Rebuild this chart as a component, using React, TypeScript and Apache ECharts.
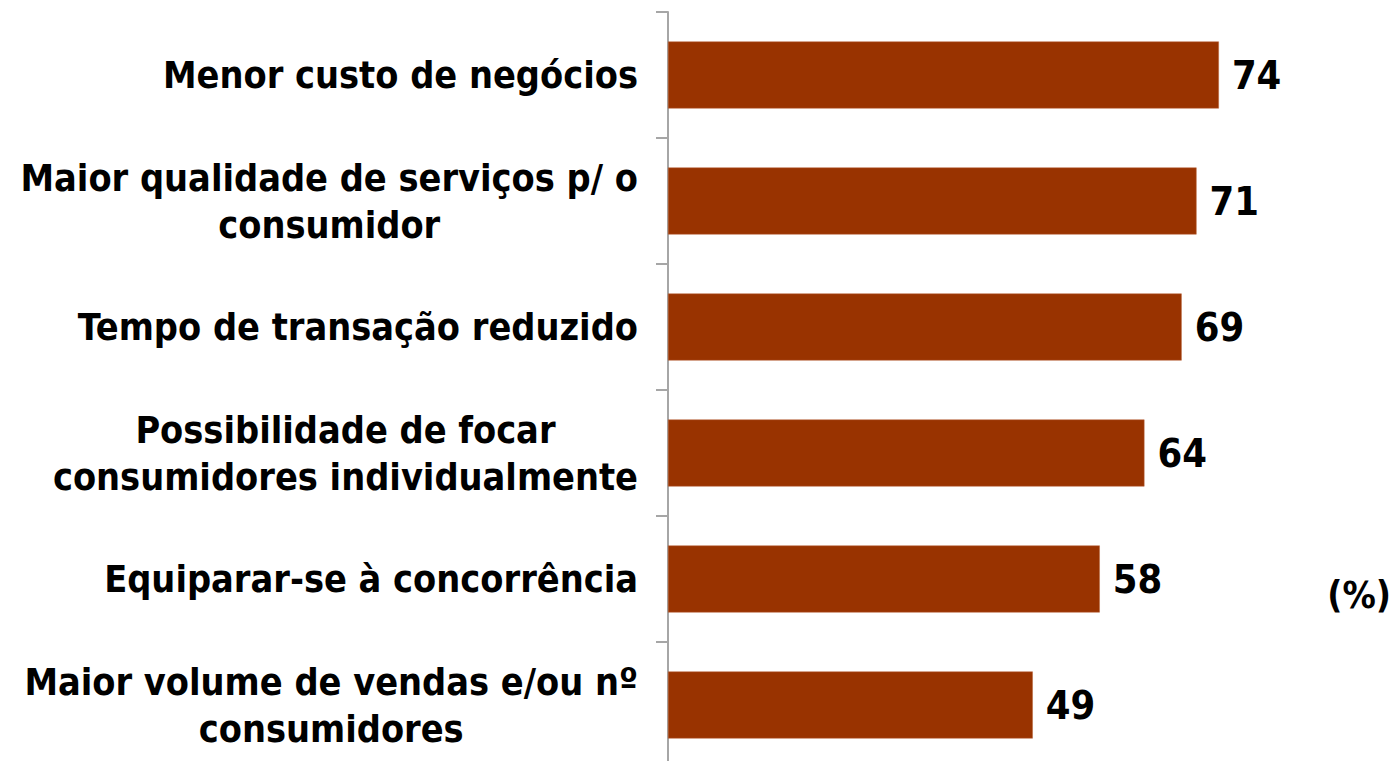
import React, { useEffect, useRef } from "react";
import * as echarts from "echarts";

const categories: string[] = [
  "Menor custo de negócios",
  "Maior qualidade de serviços p/ o\nconsumidor",
  "Tempo de transação reduzido",
  "Possibilidade de focar\nconsumidores individualmente",
  "Equiparar-se à concorrência",
  "Maior volume de vendas e/ou nº\nconsumidores",
];
const values: number[] = [74, 71, 69, 64, 58, 49];
const unitLabel = "(%)";

const FONT = "'DejaVu Sans Condensed', 'DejaVu Sans', sans-serif";

export default function App() {
  const ref = useRef<HTMLDivElement>(null);
  useEffect(() => {
    if (!ref.current) return;
    const chart = echarts.init(ref.current, undefined, { renderer: "svg" });
    chart.setOption({
      animation: false,
      backgroundColor: "#ffffff",
      grid: { left: 668, top: 12, width: 670, height: 756, containLabel: false },
      xAxis: {
        type: "value",
        min: 0,
        max: 90,
        show: false,
      },
      yAxis: {
        type: "category",
        inverse: true,
        data: categories,
        axisLine: { show: true, lineStyle: { color: "#a6a6a6", width: 2 } },
        axisTick: { show: true, length: 12, lineStyle: { color: "#a6a6a6", width: 2 } },
        axisLabel: {
          margin: 30,
          formatter: (v: string) =>
            v
              .split("\n")
              .map((l) => `{c|${l}}`)
              .join("\n"),
          rich: {
            c: {
              align: "center",
              fontFamily: FONT,
              fontWeight: "bold",
              fontSize: 37.5,
              lineHeight: 47,
              color: "#000000",
            },
          },
        },
        splitLine: { show: false },
      },
      series: [
        {
          type: "bar",
          data: values,
          barWidth: 67,
          itemStyle: { color: "#993300", borderColor: "#b9643a", borderWidth: 0.5 },
          label: {
            show: true,
            position: "right",
            distance: 13,
            fontFamily: FONT,
            fontWeight: "bold",
            fontSize: 39.5,
            color: "#000000",
          },
        },
      ],
      graphic: [
        {
          type: "text",
          right: 2,
          top: 577,
          style: {
            text: unitLabel,
            fontFamily: FONT,
            fontWeight: "bold",
            fontSize: 37,
            fill: "#000000",
          },
        },
      ],
    });
    return () => chart.dispose();
  }, []);
  return (
    <div
      style={{
        position: "absolute",
        left: 0,
        top: 0,
        width: 1393,
        height: 761,
        overflow: "hidden",
      }}
    >
      <div ref={ref} style={{ width: 1393, height: 772 }} />
    </div>
  );
}
